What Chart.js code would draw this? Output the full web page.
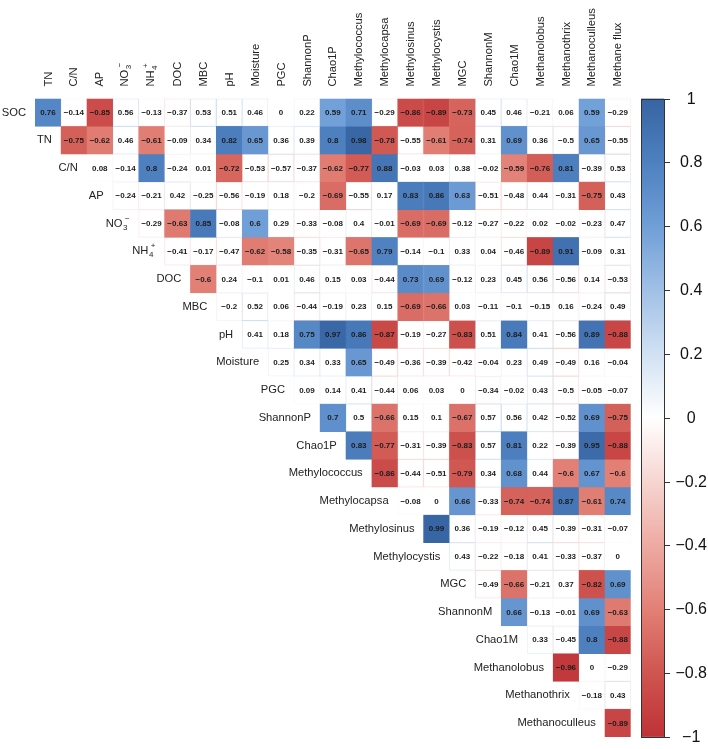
<!DOCTYPE html>
<html>
<head>
<meta charset="utf-8">
<script src="https://cdn.jsdelivr.net/npm/chart.js@4.4.1/dist/chart.umd.min.js"></script>
<style>
html,body{margin:0;padding:0;background:#fff;}
#wrap{width:708px;height:749px;position:relative;}
</style>
</head>
<body>
<div id="wrap"><canvas id="c"></canvas></div>
<script>
// ---- labels ----
const colLabels = ['TN','C/N','AP','NO3-','NH4+','DOC','MBC','pH','Moisture','PGC','ShannonP','Chao1P','Methylococcus','Methylocapsa','Methylosinus','Methylocystis','MGC','ShannonM','Chao1M','Methanolobus','Methanothrix','Methanoculleus','Methane flux'];
const rowLabels = ['SOC','TN','C/N','AP','NO3-','NH4+','DOC','MBC','pH','Moisture','PGC','ShannonP','Chao1P','Methylococcus','Methylocapsa','Methylosinus','Methylocystis','MGC','ShannonM','Chao1M','Methanolobus','Methanothrix','Methanoculleus'];
const richLabels = {'NO3-':['NO','3','\u2212'], 'NH4+':['NH','4','+']};

// ---- correlation rows (upper triangle, starting at the next variable) ----
const rowSOC = [0.76,-0.14,-0.85,0.56,-0.13,-0.37,0.53,0.51,0.46,0,0.22,0.59,0.71,-0.29,-0.86,-0.89,-0.73,0.45,0.46,-0.21,0.06,0.59,-0.29];
const rowTN = [-0.75,-0.62,0.46,-0.61,-0.09,0.34,0.82,0.65,0.36,0.39,0.8,0.98,-0.78,-0.55,-0.61,-0.74,0.31,0.69,0.36,-0.5,0.65,-0.55];
const rowCN = [0.08,-0.14,0.8,-0.24,0.01,-0.72,-0.53,-0.57,-0.37,-0.62,-0.77,0.88,-0.03,0.03,0.38,-0.02,-0.59,-0.76,0.81,-0.39,0.53];
const rowAP = [-0.24,-0.21,0.42,-0.25,-0.56,-0.19,0.18,-0.2,-0.69,-0.55,0.17,0.83,0.86,0.63,-0.51,-0.48,0.44,-0.31,-0.75,0.43];
const rowNO3 = [-0.29,-0.63,0.85,-0.08,0.6,0.29,-0.33,-0.08,0.4,-0.01,-0.69,-0.69,-0.12,-0.27,-0.22,0.02,-0.02,-0.23,0.47];
const rowNH4 = [-0.41,-0.17,-0.47,-0.62,-0.58,-0.35,-0.31,-0.65,0.79,-0.14,-0.1,0.33,0.04,-0.46,-0.89,0.91,-0.09,0.31];
const rowDOC = [-0.6,0.24,-0.1,0.01,0.46,0.15,0.03,-0.44,0.73,0.69,-0.12,0.23,0.45,0.56,-0.56,0.14,-0.53];
const rowMBC = [-0.2,0.52,0.06,-0.44,-0.19,0.23,0.15,-0.69,-0.66,0.03,-0.11,-0.1,-0.15,0.16,-0.24,0.49];
const rowPH = [0.41,0.18,0.75,0.97,0.86,-0.87,-0.19,-0.27,-0.83,0.51,0.84,0.41,-0.56,0.89,-0.88];
const rowMoisture = [0.25,0.34,0.33,0.65,-0.49,-0.36,-0.39,-0.42,-0.04,0.23,0.49,-0.49,0.16,-0.04];
const rowPGC = [0.09,0.14,0.41,-0.44,0.06,0.03,0,-0.34,-0.02,0.43,-0.5,-0.05,-0.07];
const rowShannonP = [0.7,0.5,-0.66,0.15,0.1,-0.67,0.57,0.56,0.42,-0.52,0.69,-0.75];
const rowChao1P = [0.83,-0.77,-0.31,-0.39,-0.83,0.57,0.81,0.22,-0.39,0.95,-0.88];
const rowMethylococcus = [-0.86,-0.44,-0.51,-0.79,0.34,0.68,0.44,-0.6,0.67,-0.6];
const rowMethylocapsa = [-0.08,0,0.66,-0.33,-0.74,-0.74,0.87,-0.61,0.74];
const rowMethylosinus = [0.99,0.36,-0.19,-0.12,0.45,-0.39,-0.31,-0.07];
const rowMethylocystis = [0.43,-0.22,-0.18,0.41,-0.33,-0.37,0];
const rowMGC = [-0.49,-0.66,-0.21,0.37,-0.82,0.69];
const rowShannonM = [0.66,-0.13,-0.01,0.69,-0.63];
const rowChao1M = [0.33,-0.45,0.8,-0.88];
const rowMethanolobus = [-0.96,0,-0.29];
const rowMethanothrix = [-0.18,0.43];
const rowMethanoculleus = [-0.89];

const corrRows = [rowSOC,rowTN,rowCN,rowAP,rowNO3,rowNH4,rowDOC,rowMBC,rowPH,rowMoisture,rowPGC,rowShannonP,rowChao1P,rowMethylococcus,rowMethylocapsa,rowMethylosinus,rowMethylocystis,rowMGC,rowShannonM,rowChao1M,rowMethanolobus,rowMethanothrix,rowMethanoculleus];

const cbTicks = [1,0.8,0.6,0.4,0.2,0,-0.2,-0.4,-0.6,-0.8,-1];
const sigThreshold = 0.58;

// ---- colour map ----
const colorStops = [[-1,[190,50,55]],[-0.8,[207,85,80]],[-0.6,[226,128,118]],[-0.4,[237,170,162]],[-0.2,[246,213,209]],[0,[255,255,255]],[0.2,[209,225,243]],[0.4,[160,192,230]],[0.6,[112,158,215]],[0.8,[78,128,192]],[1,[55,100,162]]];
function rgbOf(v){
  v = Math.max(-1, Math.min(1, v));
  for (let i=0;i<colorStops.length-1;i++){
    const [a,ca]=colorStops[i],[b,cb]=colorStops[i+1];
    if (v>=a && v<=b){
      const t=(v-a)/(b-a);
      return ca.map((x,k)=>Math.round(x+(cb[k]-x)*t));
    }
  }
  return [255,255,255];
}
function colorOf(v,a){ const c=rgbOf(v); return a===undefined?`rgb(${c[0]},${c[1]},${c[2]})`:`rgba(${c[0]},${c[1]},${c[2]},${a})`; }
function fmt(v){ return (v<0?'\u2212':'')+String(Math.abs(v)); }
function valueAt(r,c){ return corrRows[r][c-r]; }

const FONT = "'Liberation Sans', Arial, Helvetica, sans-serif";
Chart.defaults.font.family = FONT;

const datasets = rowLabels.map((name,r)=>({
  label: name,
  data: colLabels.map((_,c)=> c>=r ? [r-0.5, r+0.5] : null),
  grouped: false,
  categoryPercentage: 1,
  barPercentage: 1,
  borderSkipped: false,
  borderWidth: 1,
  backgroundColor: (ctx)=>{ const c=ctx.dataIndex; if(c<r) return 'rgba(0,0,0,0)'; const v=valueAt(r,c); return Math.abs(v)>=sigThreshold?colorOf(v):'#ffffff'; },
  borderColor: (ctx)=>{ const c=ctx.dataIndex; if(c<r) return 'rgba(0,0,0,0)'; const v=valueAt(r,c); return Math.abs(v)>=sigThreshold?colorOf(v):colorOf(v,0.28); }
}));

function drawRich(ctx, parts, x, y, mainSize, subSize){
  ctx.font = `${mainSize}px ${FONT}`;
  ctx.fillText(parts[0], x, y);
  const wm = ctx.measureText(parts[0]).width;
  ctx.font = `${subSize}px ${FONT}`;
  ctx.fillText(parts[1], x+wm+0.5, y+4);
  const ws = ctx.measureText(parts[1]).width;
  ctx.fillText(parts[2], x+wm+ws*0.55, y-5);
}
function richWidth(ctx, parts, mainSize, subSize){
  ctx.font = `${mainSize}px ${FONT}`;
  const wm = ctx.measureText(parts[0]).width;
  ctx.font = `${subSize}px ${FONT}`;
  const ws = ctx.measureText(parts[1]).width;
  const wp = ctx.measureText(parts[2]).width;
  return wm + Math.max(ws+0.5, ws*0.55+wp);
}

const cellPlugin = {
  id: 'cells',
  afterDatasetsDraw(chart){
    const ctx = chart.ctx;
    const xs = chart.scales.x, ys = chart.scales.y;
    ctx.save();
    ctx.font = `bold 8px ${FONT}`;
    ctx.textAlign = 'center';
    ctx.textBaseline = 'middle';
    ctx.fillStyle = '#1c1c1c';
    chart.data.datasets.forEach((ds,r)=>{
      const meta = chart.getDatasetMeta(r);
      meta.data.forEach((el,c)=>{
        if (ds.data[c]==null) return;
        const y = (el.y + el.base)/2;
        ctx.fillText(fmt(valueAt(r,c)), el.x, y+0.5);
      });
    });
    const cw = xs.getPixelForValue(1) - xs.getPixelForValue(0);
    ctx.fillStyle = '#222';
    rowLabels.forEach((name,r)=>{
      const xr = xs.getPixelForValue(r) - cw/2 - 9;
      const y = ys.getPixelForValue(r);
      if (richLabels[name]){
        ctx.textAlign='left';
        const w = richWidth(ctx, richLabels[name], 11.2, 8);
        drawRich(ctx, richLabels[name], xr - w, y, 11.2, 8);
      } else {
        ctx.font = `11.2px ${FONT}`;
        ctx.textAlign='right';
        ctx.fillText(name, xr, y);
      }
    });
    colLabels.forEach((name,c)=>{
      if (!richLabels[name]) return;
      const x = xs.getPixelForValue(c);
      ctx.save();
      ctx.translate(x-1, xs.bottom - 12);
      ctx.rotate(-Math.PI/2);
      ctx.textAlign='left';
      drawRich(ctx, richLabels[name], 0, 0, 11.2, 8);
      ctx.restore();
    });
    ctx.restore();
  },
  afterDraw(chart){
    const ctx = chart.ctx;
    const cb = chart.scales.cb;
    const area = chart.chartArea;
    const top = cb.getPixelForValue(1), bot = cb.getPixelForValue(-1);
    const x0 = area.right + 10.5, w = 23;
    ctx.save();
    const g = ctx.createLinearGradient(0, top, 0, bot);
    colorStops.forEach(([v])=> g.addColorStop((1-v)/2, colorOf(v)));
    ctx.fillStyle = g;
    ctx.fillRect(x0, top, w, bot-top);
    ctx.strokeStyle = '#333';
    ctx.lineWidth = 1;
    ctx.strokeRect(Math.round(x0)+0.5, Math.round(top)+0.5, w, Math.round(bot-top));
    ctx.font = `16px ${FONT}`;
    ctx.fillStyle = '#111';
    ctx.textAlign = 'center';
    ctx.textBaseline = 'middle';
    cbTicks.forEach(v=>{
      const y = Math.round(cb.getPixelForValue(v))+0.5;
      ctx.beginPath();
      ctx.moveTo(Math.round(x0)+w+0.5, y);
      ctx.lineTo(Math.round(x0)+w+6, y);
      ctx.stroke();
      ctx.fillText(fmt(v), x0 + w + 27, y);
    });
    ctx.restore();
  }
};

new Chart(document.getElementById('c'), {
  type: 'bar',
  data: { labels: colLabels, datasets },
  plugins: [cellPlugin],
  options: {
    responsive: true,
    maintainAspectRatio: false,
    animation: false,
    events: [],
    layout: { padding: { left: 35, right: 77.3, top: 0, bottom: 12.1 } },
    plugins: { legend: { display: false }, tooltip: { enabled: false } },
    scales: {
      x: {
        type: 'category',
        position: 'top',
        offset: true,
        grid: { display: false, drawTicks: false },
        border: { display: false },
        ticks: {
          autoSkip: false, minRotation: 90, maxRotation: 90, padding: 12, labelOffset: 14,
          color: '#222', font: { size: 11.2, family: FONT },
          callback: (val, i) => richLabels[colLabels[i]] ? '' : colLabels[i]
        },
        afterFit: (s) => { s.height = 98.6; }
      },
      y: { type: 'linear', min: -0.5, max: 22.5, reverse: true, display: false },
      cb: { type: 'linear', axis: 'y', position: 'right', min: -1, max: 1, display: false }
    }
  }
});
</script>
</body>
</html>
